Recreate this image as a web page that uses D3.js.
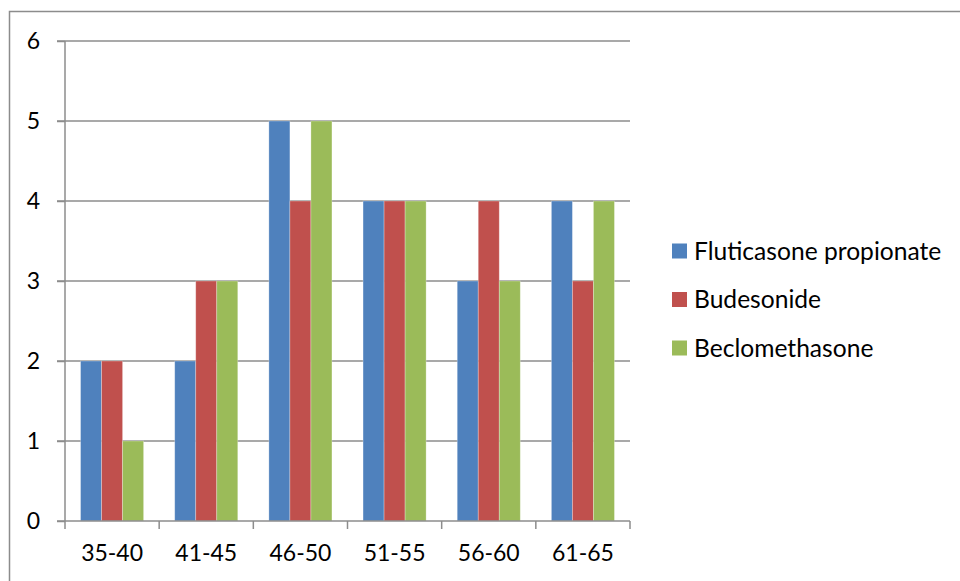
<!DOCTYPE html>
<html>
<head>
<meta charset="utf-8">
<script src="https://cdn.jsdelivr.net/npm/d3@7"></script>
<style>
  body { margin: 0; background: #fff; }
  text { font-family: Lato, "Open Sans", sans-serif; fill: #000; }
</style>
</head>
<body>
<svg id="chart" width="960" height="581"></svg>
<script>
var categories = ["35-40", "41-45", "46-50", "51-55", "56-60", "61-65"];
var seriesNames = ["Fluticasone propionate", "Budesonide", "Beclomethasone"];
var fluticasone = [2, 2, 5, 4, 3, 4];
var budesonide = [2, 3, 4, 4, 4, 3];
var beclomethasone = [1, 3, 5, 4, 3, 4];
var colors = ["#4f81bd", "#c0504d", "#9bbb59"];
var yTicks = [0, 1, 2, 3, 4, 5, 6];

var series = [fluticasone, budesonide, beclomethasone];

var svg = d3.select("#chart");
var axisFont = 23, legendFont = 24.6;

// outer frame (cut off at right and bottom)
svg.append("rect")
  .attr("x", 9.5).attr("y", 11.5)
  .attr("width", 1000).attr("height", 700)
  .attr("fill", "none")
  .attr("stroke", "#8c8c8c")
  .attr("stroke-width", 1.5);

var plotLeft = 65, plotRight = 630, plotTop = 41, plotBottom = 521;

var x = d3.scaleBand()
  .domain(categories)
  .range([plotLeft, plotRight])
  .paddingInner(0)
  .paddingOuter(0);

var y = d3.scaleLinear()
  .domain([0, 6])
  .range([plotBottom, plotTop]);

var inner = d3.scaleBand()
  .domain(d3.range(series.length))
  .range([0, x.bandwidth()])
  .paddingOuter(0.74)
  .paddingInner(0);

// gridlines
svg.append("g")
  .selectAll("line")
  .data(yTicks.filter(d => d > 0))
  .join("line")
  .attr("x1", plotLeft - 8).attr("x2", plotRight)
  .attr("y1", d => y(d)).attr("y2", d => y(d))
  .attr("stroke", "#8c8c8c")
  .attr("stroke-width", 1.5);

// bars
var groups = svg.append("g")
  .selectAll("g")
  .data(series)
  .join("g")
  .attr("fill", (d, i) => colors[i]);

groups.each(function(vals, si) {
  d3.select(this).selectAll("rect")
    .data(vals)
    .join("rect")
    .attr("x", (d, i) => x(categories[i]) + inner(si))
    .attr("y", d => y(d))
    .attr("width", inner.bandwidth())
    .attr("height", d => y(0) - y(d))
    .attr("stroke", "rgba(255,255,255,0.35)")
    .attr("stroke-width", 0.8);
});

// y axis
var yAxis = svg.append("g")
  .attr("transform", "translate(" + plotLeft + ",0)")
  .call(d3.axisLeft(y).tickValues(yTicks).tickFormat(d3.format("d")).tickSize(8).tickPadding(17));
yAxis.attr("font-family", null).attr("font-size", null);
yAxis.select(".domain").attr("stroke", "#8c8c8c").attr("stroke-width", 1.5).attr("d", "M0," + plotTop + "V" + plotBottom);
yAxis.selectAll(".tick line").attr("stroke", "#8c8c8c").attr("stroke-width", 1.5);
yAxis.selectAll("text").style("font-size", axisFont + "px").attr("fill", "#000");

// x axis
var xAxis = svg.append("g")
  .attr("transform", "translate(0," + plotBottom + ")");
xAxis.append("line")
  .attr("x1", plotLeft - 8).attr("x2", plotRight)
  .attr("stroke", "#8c8c8c").attr("stroke-width", 1.5);
xAxis.selectAll(".xt")
  .data(d3.range(categories.length + 1))
  .join("line")
  .attr("class", "xt")
  .attr("x1", i => plotLeft + i * x.bandwidth())
  .attr("x2", i => plotLeft + i * x.bandwidth())
  .attr("y1", 0).attr("y2", 8)
  .attr("stroke", "#8c8c8c").attr("stroke-width", 1.5);
xAxis.selectAll("text")
  .data(categories)
  .join("text")
  .attr("x", d => x(d) + x.bandwidth() / 2)
  .attr("y", 32)
  .attr("dy", "0.35em")
  .attr("text-anchor", "middle")
  .style("font-size", axisFont + "px")
  .text(d => d);

// legend
var legend = svg.append("g")
  .attr("transform", "translate(672,251)");
var items = legend.selectAll("g")
  .data(seriesNames)
  .join("g")
  .attr("transform", (d, i) => "translate(0," + (i * 48.5) + ")");
items.append("rect")
  .attr("x", 0).attr("y", -7.5)
  .attr("width", 15).attr("height", 15)
  .attr("fill", (d, i) => colors[i]);
items.append("text")
  .attr("x", 22)
  .attr("dy", "0.35em")
  .style("font-size", legendFont + "px")
  .text(d => d);
</script>
</body>
</html>
